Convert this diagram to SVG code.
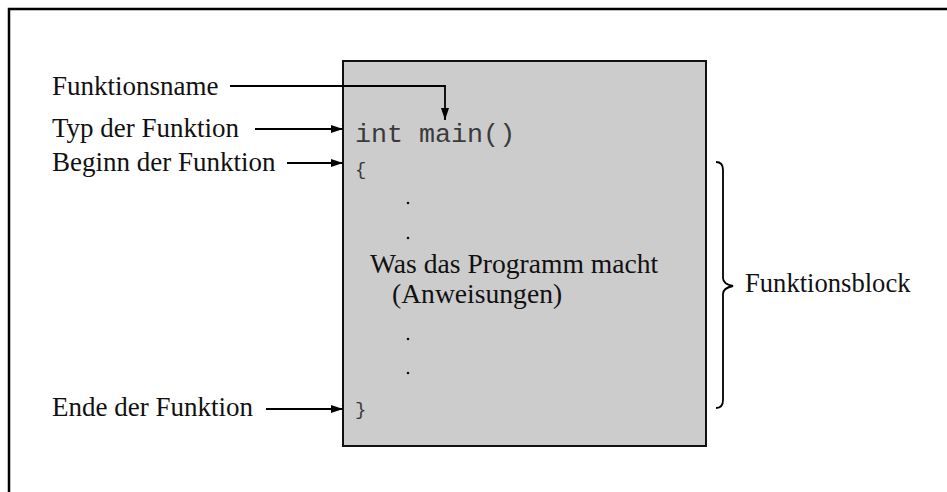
<svg xmlns="http://www.w3.org/2000/svg" width="947" height="492" viewBox="0 0 947 492">
  <defs>
    <style>
      .lbl { font-family: "Liberation Serif", "Times New Roman", serif; font-size: 27px; fill: #111; }
      .body { font-size: 27.6px; }
      .code { font-family: "Liberation Mono", "Courier New", monospace; font-size: 26.7px; fill: #3a3a3a; }
      .brace { font-size: 19px; }
      .conn { fill: none; stroke: #000; stroke-width: 1.8; }
      .dot { fill: #111; }
    </style>
    <marker id="arrow" viewBox="0 0 12 8" refX="12" refY="4" markerWidth="12" markerHeight="8" markerUnits="userSpaceOnUse" orient="auto">
      <path d="M0,0 L12,4 L0,8 Z" fill="#000"/>
    </marker>
  </defs>

  <!-- outer frame -->
  <rect x="9" y="9" width="960" height="500" fill="#fff" stroke="#000" stroke-width="2.5"/>

  <!-- function body box -->
  <g id="function-box">
    <rect x="343" y="61" width="363" height="385" fill="#cccccc" stroke="#111" stroke-width="2"/>
    <text class="code" x="355" y="142">int main()</text>
    <text class="code brace" x="355" y="175">{</text>
    <circle class="dot" cx="408" cy="203" r="1.3"/>
    <circle class="dot" cx="408" cy="238" r="1.3"/>
    <text class="lbl body" x="370" y="273">Was das Programm macht</text>
    <text class="lbl body" x="392" y="303">(Anweisungen)</text>
    <circle class="dot" cx="408" cy="339" r="1.3"/>
    <circle class="dot" cx="408" cy="373" r="1.3"/>
    <text class="code brace" x="355" y="415">}</text>
  </g>

  <g id="label-name"><text class="lbl" x="52" y="95">Funktionsname</text></g>
  <g id="label-type"><text class="lbl" x="52" y="137">Typ der Funktion</text></g>
  <g id="label-begin"><text class="lbl" x="52" y="171">Beginn der Funktion</text></g>
  <g id="label-end"><text class="lbl" x="52" y="416">Ende der Funktion</text></g>

  <g id="block-brace">
    <path class="conn" d="M716,162 Q723,162 723,170 L723,278 Q723,284 733,286 Q723,288 723,294 L723,400 Q723,408 716,408"/>
    <text class="lbl" x="745" y="292" style="font-size:26.6px">Funktionsblock</text>
  </g>

  <!-- connectors -->
  <g id="connectors">
    <path class="conn" d="M230,86 H445 V120" marker-end="url(#arrow)"/>
    <path class="conn" d="M255,129 H343" marker-end="url(#arrow)"/>
    <path class="conn" d="M287,163 H343" marker-end="url(#arrow)"/>
    <path class="conn" d="M266,409 H343" marker-end="url(#arrow)"/>
  </g>
</svg>
